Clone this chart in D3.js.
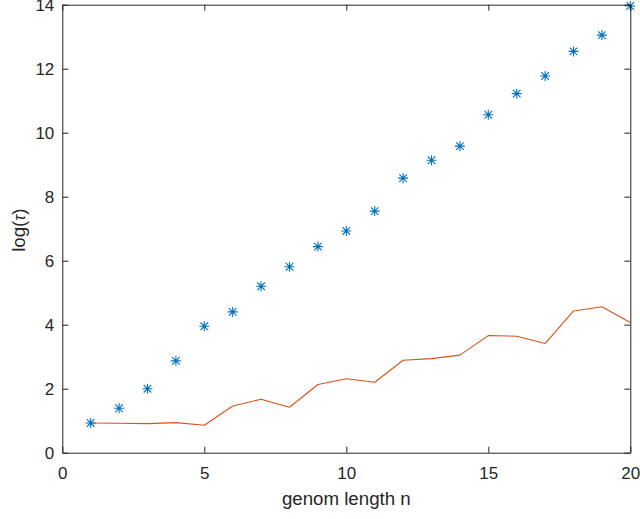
<!DOCTYPE html>
<html>
<head>
<meta charset="utf-8">
<script src="https://cdn.jsdelivr.net/npm/d3@7"></script>
<style>
  html, body { margin: 0; padding: 0; background: #fff; }
  svg { display: block; font-family: "Liberation Sans", Arial, Helvetica, sans-serif; }
</style>
</head>
<body>
<svg id="chart" width="640" height="519"></svg>
<script>
// Genome length n
const lengths = [1, 2, 3, 4, 5, 6, 7, 8, 9, 10, 11, 12, 13, 14, 15, 16, 17, 18, 19, 20];
// log(tau) measured, shown as asterisks
const logTauMarkers = [0.93, 1.39, 2.0, 2.87, 3.95, 4.40, 5.20, 5.81, 6.44, 6.93, 7.55,
                       8.58, 9.14, 9.58, 10.56, 11.22, 11.77, 12.54, 13.05, 13.96];
// log(tau) second series, shown as a line
const logTauLine = [0.93, 0.92, 0.91, 0.94, 0.86, 1.46, 1.67, 1.42, 2.13, 2.31, 2.20,
                    2.89, 2.94, 3.05, 3.66, 3.64, 3.41, 4.43, 4.56, 4.07];
const xTicks = [0, 5, 10, 15, 20];
const yTicks = [0, 2, 4, 6, 8, 10, 12, 14];

const svg = d3.select("#chart");
const plotL = 62.3, plotR = 630.3, plotT = 4.7, plotB = 452.7;
const axisColor = "#262626";
const tickLen = 6;
const tickFont = 17, labelFont = 18.7;

const x = d3.scaleLinear().domain([0, 20]).range([plotL, plotR]);
const y = d3.scaleLinear().domain([0, 14]).range([plotB, plotT]);

// Line series
const line = d3.line().x((d, i) => x(lengths[i])).y(d => y(d));
svg.append("path")
  .datum(logTauLine)
  .attr("d", line)
  .attr("fill", "none")
  .attr("stroke", "#D95319")
  .attr("stroke-width", 1.1)
  .attr("stroke-linejoin", "round");

// Asterisk markers
const r = 5, rd = 3.8;
const star = `M${-r},0H${r}M0,${-r}V${r}M${-rd},${-rd}L${rd},${rd}M${-rd},${rd}L${rd},${-rd}`;
svg.append("g").selectAll("path")
  .data(logTauMarkers)
  .join("path")
  .attr("transform", (d, i) => `translate(${x(lengths[i])},${y(d)})`)
  .attr("d", star)
  .attr("fill", "none")
  .attr("stroke", "#0072BD")
  .attr("stroke-width", 1.1);

// Axes (ticks pointing inward, box on)
const axB = d3.axisBottom(x).tickValues(xTicks).tickSizeInner(-tickLen).tickSizeOuter(0).tickPadding(14);
const axT = d3.axisTop(x).tickValues(xTicks).tickSizeInner(-tickLen).tickSizeOuter(0).tickFormat("");
const axL = d3.axisLeft(y).tickValues(yTicks).tickSizeInner(-tickLen).tickSizeOuter(0).tickPadding(8);
const axR = d3.axisRight(y).tickValues(yTicks).tickSizeInner(-tickLen).tickSizeOuter(0).tickFormat("");

function style(g) {
  g.selectAll("path.domain").attr("stroke", axisColor).attr("stroke-width", 1);
  g.selectAll(".tick line").attr("stroke", axisColor).attr("stroke-width", 1);
  g.selectAll(".tick text").attr("fill", axisColor).attr("font-size", tickFont)
    .attr("font-family", "Liberation Sans, Arial, sans-serif");
}

svg.append("g").attr("transform", `translate(0,${plotB})`).call(axB).call(style);
svg.append("g").attr("transform", `translate(0,${plotT})`).call(axT).call(style);
svg.append("g").attr("transform", `translate(${plotL},0)`).call(axL).call(style);
svg.append("g").attr("transform", `translate(${plotR},0)`).call(axR).call(style);

// Axis titles
svg.append("text")
  .attr("x", (plotL + plotR) / 2)
  .attr("y", 505)
  .attr("text-anchor", "middle")
  .attr("font-size", labelFont)
  .attr("fill", axisColor)
  .text("genom length n");

const yl = svg.append("text")
  .attr("transform", `translate(25,${(plotT + plotB) / 2 + 1.5}) rotate(-90)`)
  .attr("text-anchor", "middle")
  .attr("font-size", labelFont)
  .attr("fill", axisColor);
yl.append("tspan").text("log(");
yl.append("tspan").attr("font-style", "italic").attr("font-size", labelFont * 0.85).text("τ");
yl.append("tspan").text(")");
</script>
</body>
</html>
